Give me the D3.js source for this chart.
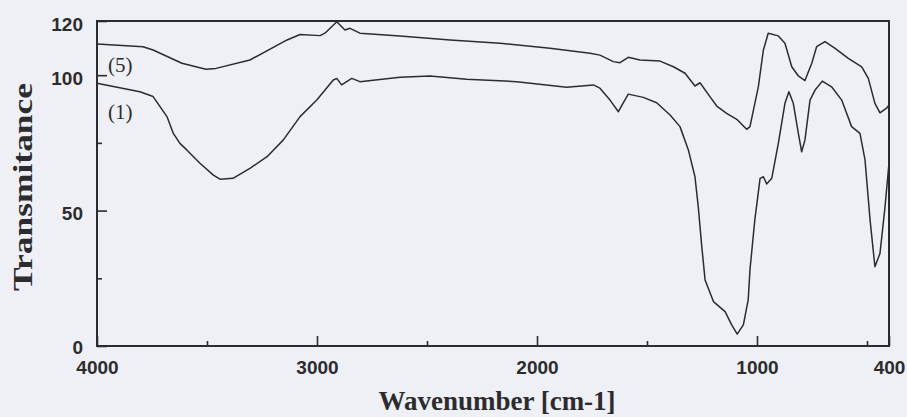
<!DOCTYPE html>
<html>
<head>
<meta charset="utf-8">
<script src="https://cdn.jsdelivr.net/npm/d3@7"></script>
<style>
  body { margin: 0; background: #eef0f5; }
  svg { display: block; }
</style>
</head>
<body>
<div id="chart"></div>
<script>
// spectrum (5)
var wn5 = [4000, 3791, 3745, 3614, 3505, 3459, 3305, 3136, 3077, 2986, 2964, 2910, 2873, 2850, 2805,
    2623, 2395, 2168, 1941, 1759, 1714, 1653, 1623, 1585, 1532, 1441, 1380, 1327, 1282, 1259, 1214,
    1183, 1138, 1092, 1047, 1032, 994, 971, 949, 903, 873, 842, 812, 782, 751, 729, 691, 645, 585,
    524, 494, 464, 441, 411, 400];
var t5 = [111.5, 110.5, 109.3, 104.4, 102.2, 102.5, 105.6, 113.0, 115.0, 114.6, 115.5, 119.7, 116.7, 117.3, 115.5,
    114.5, 113.0, 111.8, 109.9, 108.1, 107.4, 105.0, 104.6, 106.6, 105.6, 105.2, 103.1, 100.7, 96.0, 97.2, 92.1,
    88.6, 85.9, 83.7, 80.0, 81.0, 95.7, 109.3, 115.5, 114.5, 111.8, 103.1, 99.7, 98.0, 104.4, 110.5, 112.4, 109.9, 106.2,
    103.1, 98.8, 89.6, 86.1, 87.8, 89.0];

// spectrum (1)
var wn1 = [4000, 3805, 3745, 3682, 3653, 3623, 3592, 3532, 3471, 3441, 3382, 3305, 3227, 3153, 3077,
    3001, 2926, 2910, 2888, 2842, 2805, 2623, 2486, 2320, 2092, 1865, 1744, 1714, 1668, 1630, 1608,
    1585, 1517, 1456, 1395, 1350, 1312, 1282, 1267, 1251, 1236, 1198, 1145, 1115, 1090, 1062, 1040,
    1032, 1010, 986, 971, 956, 933, 903, 873, 855, 835, 812, 797, 782, 759, 736, 703, 661, 615,
    570, 532, 509, 486, 464, 441, 418, 400];
var t1 = [97.0, 93.9, 92.1, 84.7, 78.5, 74.8, 72.4, 67.5, 63.1, 61.6, 61.9, 65.6, 69.9, 76.1, 84.7,
    90.8, 98.2, 98.8, 96.4, 98.8, 97.6, 99.2, 99.7, 98.5, 97.6, 95.5, 96.4, 95.2, 90.8, 86.5, 89.8,
    93.0, 91.8, 89.8, 85.3, 81.0, 72.4, 62.5, 51.4, 36.7, 24.4, 16.4, 12.7, 7.8, 4.4, 7.8, 17.0,
    28.1, 46.5, 61.9, 62.5, 59.8, 61.9, 74.8, 89.6, 93.9, 89.6, 78.5, 71.7, 76.1, 90.8, 94.5, 97.8, 95.7, 90.8,
    81.0, 78.5, 68.7, 46.5, 29.3, 34.2, 51.4, 67.5];

var xTicks = [4000, 3000, 2000, 1000, 400];
var xMinor = [3500, 2500, 1500, 500];
var yTicks = [0, 50, 100, 120];
var yMinor = [25, 75];

var seriesNames = ["(5)", "(1)"];
var seriesLabelAt = [[3950, 101], [3950, 84]];

var width = 907, height = 417;
var ink = "#2c2c2e";

var svg = d3.select("#chart").append("svg")
    .attr("width", width)
    .attr("height", height);

var x = d3.scaleLinear().domain([4000, 400]).range([97, 889]);
var y = d3.scaleLinear().domain([0, 120]).range([346, 21]);

// frame
svg.append("rect")
    .attr("x", x(4000))
    .attr("y", y(120))
    .attr("width", x(400) - x(4000))
    .attr("height", y(0) - y(120))
    .attr("fill", "none")
    .attr("stroke", ink)
    .attr("stroke-width", 2);

var xAxis = svg.append("g")
    .attr("transform", "translate(0," + y(0) + ")")
    .call(d3.axisBottom(x).tickValues(xTicks).tickSize(-10).tickPadding(15).tickFormat(d3.format("d")));
var xAxisMinor = svg.append("g")
    .attr("transform", "translate(0," + y(0) + ")")
    .call(d3.axisBottom(x).tickValues(xMinor).tickSize(-5).tickFormat(""));

var yAxis = svg.append("g")
    .attr("transform", "translate(" + x(4000) + ",0)")
    .call(d3.axisLeft(y).tickValues(yTicks).tickSize(-10).tickPadding(14).tickFormat(d3.format("d")));
var yAxisMinor = svg.append("g")
    .attr("transform", "translate(" + x(4000) + ",0)")
    .call(d3.axisLeft(y).tickValues(yMinor).tickSize(-5).tickFormat(""));

[xAxis, xAxisMinor, yAxis, yAxisMinor].forEach(function (g) {
    g.select(".domain").remove();
    g.selectAll("line").attr("stroke", ink).attr("stroke-width", 1.6);
    g.selectAll("text")
        .attr("fill", ink)
        .style("font-family", "'Liberation Sans', Arial, sans-serif")
        .style("font-weight", "bold")
        .style("font-size", "19px");
});
yAxis.selectAll("text").attr("dy", "0.48em");
// the 0 label sits just above the 4000 label
yAxis.selectAll("text").filter(function (d) { return d === 0; }).attr("dy", "0.4em");

var line = d3.line()
    .x(function (d) { return x(d[0]); })
    .y(function (d) { return y(d[1]); });

var spectra = [d3.zip(wn5, t5), d3.zip(wn1, t1)];

svg.append("g")
    .selectAll("path")
    .data(spectra)
    .enter().append("path")
    .attr("d", line)
    .attr("fill", "none")
    .attr("stroke", ink)
    .attr("stroke-width", 1.5)
    .attr("stroke-linejoin", "round");

svg.append("g")
    .selectAll("text")
    .data(seriesNames)
    .enter().append("text")
    .attr("x", function (d, i) { return x(seriesLabelAt[i][0]); })
    .attr("y", function (d, i) { return y(seriesLabelAt[i][1]); })
    .attr("fill", ink)
    .style("font-family", "'Liberation Serif', 'Times New Roman', serif")
    .style("font-size", "21px")
    .text(function (d) { return d; });

// axis titles
svg.append("text")
    .attr("x", 497)
    .attr("y", 410)
    .attr("text-anchor", "middle")
    .attr("fill", ink)
    .style("font-family", "'Liberation Serif', 'Times New Roman', serif")
    .style("font-weight", "bold")
    .style("font-size", "27px")
    .text("Wavenumber [cm-1]");

svg.append("text")
    .attr("transform", "translate(32,187) rotate(-90)")
    .attr("text-anchor", "middle")
    .attr("fill", ink)
    .attr("textLength", 208)
    .attr("lengthAdjust", "spacingAndGlyphs")
    .style("font-family", "'Liberation Serif', 'Times New Roman', serif")
    .style("font-weight", "bold")
    .style("font-size", "27px")
    .text("Transmitance");
</script>
</body>
</html>
